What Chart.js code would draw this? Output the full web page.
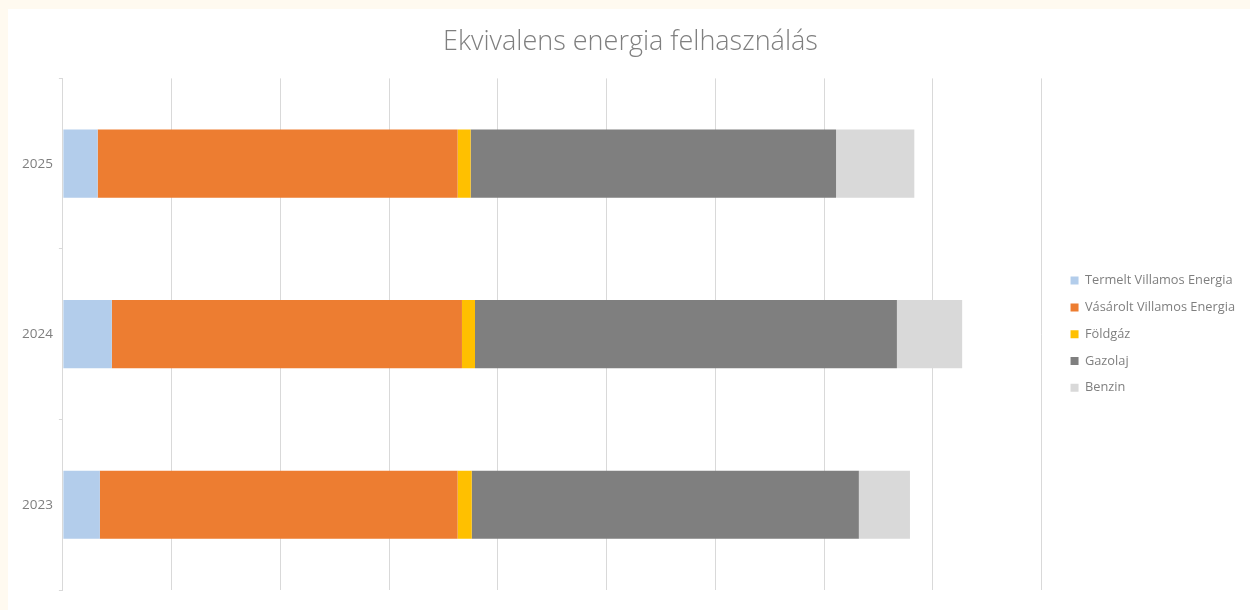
<!DOCTYPE html>
<html>
<head>
<meta charset="utf-8">
<script src="https://cdn.jsdelivr.net/npm/chart.js@4"></script>
<style>
  body { margin: 0; background: #fffaf0; }
  #wrap { position: absolute; left: 8px; top: 9px; width: 1242px; height: 601px; background: #fff; }
</style>
</head>
<body>
<div id="wrap"><canvas id="myChart"></canvas></div>
<script>
// adatok (becsült értékek a képről)
var years = ['2023', '2024', '2025'];
var termelt = [34, 45, 32];
var vasarolt = [329, 322, 331];
var foldgaz = [13, 12, 12];
var gazolaj = [356, 388, 336];
var benzin = [47, 60, 72];

var seriesNames = ['Termelt Villamos Energia', 'Vásárolt Villamos Energia', 'Földgáz', 'Gazolaj', 'Benzin'];
var seriesColors = ['#b3cdeb', '#ed7d31', '#ffc000', '#7f7f7f', '#d9d9d9'];
var seriesValues = [termelt, vasarolt, foldgaz, gazolaj, benzin];

Chart.defaults.font.family = '"Open Sans", Lato, sans-serif';
Chart.defaults.color = '#7f7f7f';

// jelmagyarázat kicsit jobbra tolva (nagyobb rés a diagram és a legend között)
var legendGap = 15;
var legendShift = {
    id: 'legendShift',
    beforeUpdate: function (chart) {
        var lg = chart.legend;
        if (!lg || lg._shifted) return;
        var fit = lg.fit, draw = lg.draw;
        lg.fit = function () { fit.call(this); this.width += legendGap; };
        lg.draw = function () {
            this.left += legendGap;
            draw.call(this);
            this.left -= legendGap;
        };
        lg._shifted = true;
    }
};

var ctx = document.getElementById('myChart').getContext('2d');
var myChart = new Chart(ctx, {
    type: 'bar',
    data: {
        labels: years,
        datasets: seriesNames.map(function (name, i) {
            return {
                label: name,
                data: seriesValues[i],
                backgroundColor: seriesColors[i],
                borderWidth: 0,
                barPercentage: 0.4,
                categoryPercentage: 1
            };
        })
    },
    plugins: [legendShift],
    options: {
        indexAxis: 'y',
        responsive: true,
        maintainAspectRatio: false,
        animation: false,
        layout: {
            padding: { left: 8, right: 5, top: 8, bottom: 20 }
        },
        scales: {
            x: {
                stacked: true,
                min: 0,
                max: 900,
                ticks: { display: false, stepSize: 100 },
                grid: { color: '#d9d9d9', lineWidth: 1, drawTicks: false },
                border: { display: false }
            },
            y: {
                stacked: true,
                reverse: true,
                offset: true,
                ticks: { font: { size: 13.5 }, color: '#7f7f7f', padding: 6 },
                grid: { offset: true, drawOnChartArea: false, color: '#d9d9d9', tickLength: 4 },
                border: { color: '#d9d9d9' }
            }
        },
        plugins: {
            title: {
                display: true,
                text: 'Ekvivalens energia felhasználás',
                color: '#7f7f7f',
                font: { size: 27, weight: '300' },
                padding: { top: 9, bottom: 20 }
            },
            legend: {
                position: 'right',
                fullSize: false,
                labels: {
                    boxWidth: 8,
                    boxHeight: 8,
                    padding: 14,
                    color: '#7f7f7f',
                    font: { size: 12.8 }
                }
            },
            tooltip: { enabled: false }
        }
    }
});
</script>
</body>
</html>
